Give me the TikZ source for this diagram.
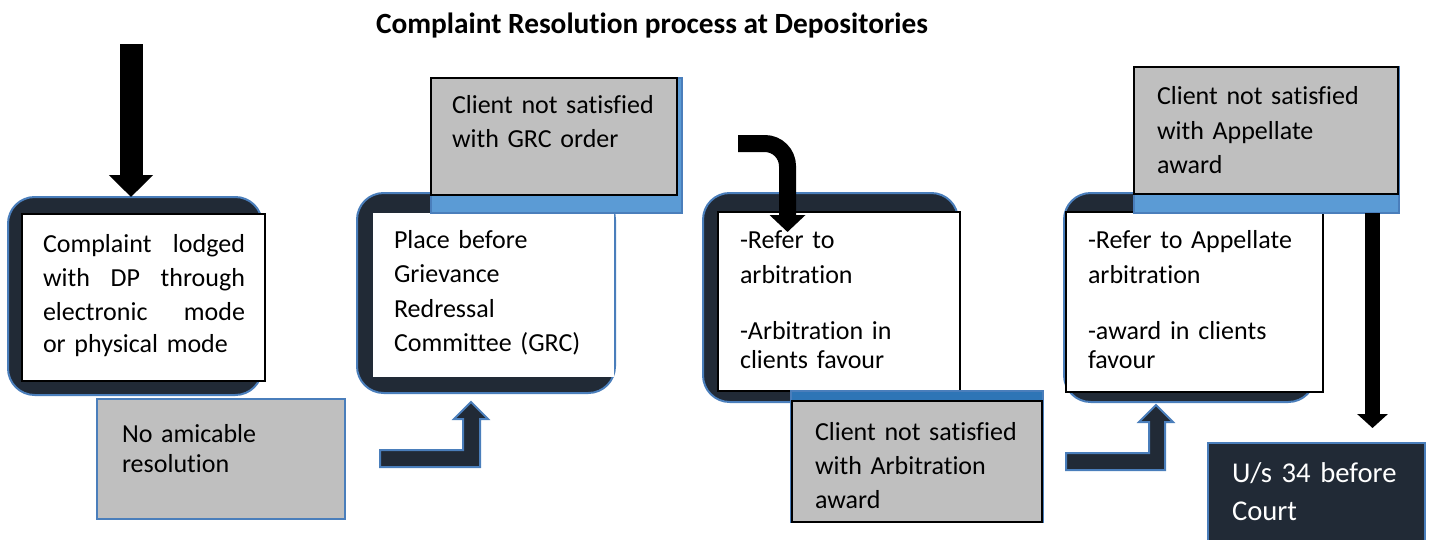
\documentclass[tikz,border=0pt]{standalone}
\usepackage{fontspec}
\setmainfont{Carlito}[Ligatures={NoCommon}]
\usetikzlibrary{arrows.meta,fit}
\definecolor{dark}{HTML}{212A36}
\definecolor{bord}{HTML}{4A7EBB}
\definecolor{lblue}{HTML}{5B9BD5}
\definecolor{mblue}{HTML}{2E75B6}
\definecolor{gbox}{HTML}{BFBFBF}
\newcommand\bodyfont{\fontsize{19.5}{25.5}\selectfont}
\newcommand\jl[1]{\makebox[151.5pt][l]{#1}}
\begin{document}
\begin{tikzpicture}[x=0.75pt,y=-0.75pt,
  outerbox/.style={draw=bord, line width=1.5pt, fill=dark, rounded corners=20pt, inner sep=0pt, outer sep=0pt},
  whitebox/.style={draw=black, line width=1.1pt, fill=white, inner sep=0pt, outer sep=0pt},
  plainwhite/.style={fill=white, inner sep=0pt, outer sep=0pt},
  graybox/.style={draw=black, line width=1.1pt, fill=gbox, inner sep=0pt, outer sep=0pt},
  graybluebox/.style={draw=bord, line width=1.3pt, fill=gbox, inner sep=0pt, outer sep=0pt},
  stripbox/.style={draw=bord, line width=0.8pt, fill=#1, inner sep=0pt, outer sep=0pt},
  courtbox/.style={draw=bord, line width=1.5pt, fill=dark, inner sep=0pt, outer sep=0pt},
  txt/.style={anchor=base west, inner sep=0pt, outer sep=0pt, align=left, font=\bodyfont},
  larrow/.style={fill=dark, draw=bord, line width=1.5pt, line join=miter},
  blkone/.style={draw=black, line width=17.25pt, -{Triangle[width=32.25pt,length=16.5pt]}},
  blktwo/.style={draw=black, line width=12.75pt, rounded corners=17pt, -{Triangle[width=26.25pt,length=12.75pt]}},
  blkthree/.style={draw=black, line width=11.25pt, -{Triangle[width=22.5pt,length=10.5pt]}}
]
\useasboundingbox (0,0) rectangle (1430,539);

% title
\node[anchor=base, inner sep=0pt, font={\bfseries\fontsize{22}{26}\selectfont}] (title) at (652,33)
  {Complaint Resolution process at Depositories};

% ---------- box 1
\node[outerbox, fit={(8,197) (262,395)}] (b1) {};
\node[whitebox, fit={(22,214) (265,381)}] (b1w) {};
\node[txt, text width=151.5pt] (t1) at (43,252)
  {\jl{Complaint\hfill lodged}\\
   \jl{with\hfill DP\hfill through}\\
   \jl{electronic\hfill mode}\\[-1pt]
   or physical mode};
\coordinate (a1s) at (131,44);
\draw[blkone] (a1s) -- (a1s |- b1.north);

% no amicable
\node[graybluebox, fit={(97,399) (345,519)}] (na) {};
\node[txt, text width=170pt] (nat) at (122,442) {No amicable\\[-3pt] resolution};

% L arrow 1
\draw[larrow] (380,450) -- (463,450) -- (463,419) -- (454,419) -- (471,402)
  -- (488,419) -- (480,419) -- (480,467) -- (380,467) -- cycle;

% ---------- box 2
\node[outerbox, fit={(357,193) (615,393)}] (b2) {};
\node[plainwhite, fit={(373,213) (614,377)}] (b2w) {};
\node[stripbox=lblue, fit={(431,78) (682,213)}] (g2b) {};
\node[graybox, fit={(431,78) (677,195)}] (g2) {};
\node[txt, text width=150pt] (t2) at (394,248)
  {Place before\\[0.5pt] Grievance\\[0.5pt] Redressal\\ Committee (GRC)};
\node[txt, text width=175pt] (g2t) at (452,113)
  {Client not satisfied\\[0.5pt] with GRC order};

% ---------- box 3
\node[outerbox, fit={(703,193) (958,402)}] (b3) {};
\node[whitebox, fit={(718,212) (960,391)}] (b3w) {};
\node[txt, text width=160pt] (t3) at (740,248)
  {-Refer to\\[0.75pt] arbitration\\[17pt] -Arbitration in\\[-3.75pt] clients favour};
\node[stripbox=mblue, fit={(791,391) (1043,522)}] (g3b) {};
\node[graybox, fit={(792,401) (1042,522)}] (g3) {};
\node[txt, text width=175pt] (g3t) at (815,440)
  {Client not satisfied\\ with Arbitration\\ award};
\coordinate (a3s) at (738,143.5);
\coordinate (a3e) at (787.5,232);
\draw[blktwo] (a3s) -- (a3s -| a3e) -- (a3e);

% L arrow 2
\draw[larrow] (1066,453) -- (1149,453) -- (1149,422) -- (1139,422) -- (1156,405)
  -- (1173,422) -- (1165,422) -- (1165,470) -- (1066,470) -- cycle;

% ---------- box 4
\node[outerbox, fit={(1064,193) (1315,402)}] (b4) {};
\node[whitebox, fit={(1066,212) (1323,392)}] (b4w) {};
\node[txt, text width=175pt] (t4) at (1088,248)
  {-Refer to Appellate\\[0.75pt] arbitration\\[17pt] -award in clients\\[-3.75pt] favour};
\node[stripbox=lblue, fit={(1134,67) (1399,213)}] (g4b) {};
\node[graybox, fit={(1134,67) (1398,194)}] (g4) {};
\node[txt, text width=180pt] (g4t) at (1157,104)
  {Client not satisfied\\[0.75pt] with Appellate\\ award};

% court
\node[courtbox, fit={(1208,443) (1425,548)}] (ct) {};
\node[txt, text width=150pt, text=white, font={\fontsize{21.5}{28.5}\selectfont}] (ctt) at (1232,482)
  {U/s 34 before\\ Court};
\coordinate (a4s) at (1372.5,0 |- g4b.south);
\coordinate (a4e) at (1372.5,428);
\draw[blkthree] (a4s) -- (a4e);
\end{tikzpicture}
\end{document}
